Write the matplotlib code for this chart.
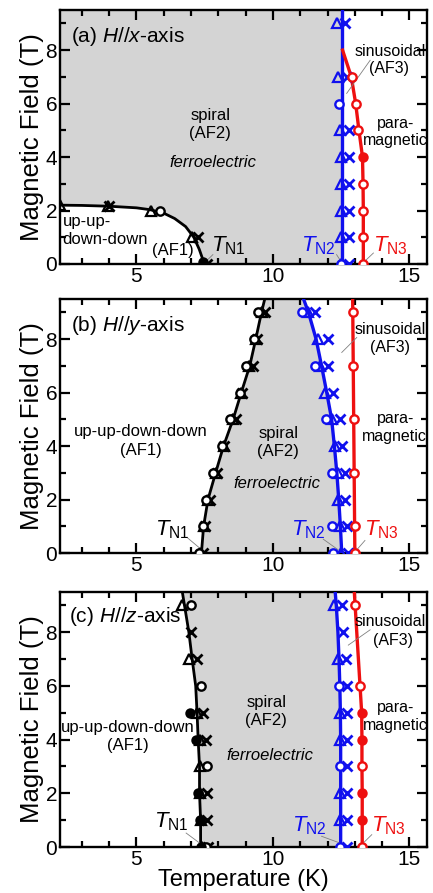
"""
H-T phase diagrams for three field directions
"""
import numpy as np
import matplotlib
matplotlib.use("Agg")
import matplotlib.pyplot as plt
from matplotlib.ticker import MultipleLocator

plt.rcParams['font.family'] = ['Liberation Sans', 'DejaVu Sans']
plt.rcParams['mathtext.fontset'] = 'custom'
plt.rcParams['mathtext.rm'] = 'Liberation Sans'
plt.rcParams['mathtext.it'] = 'Liberation Sans:italic'

GRAY = '#d4d4d4'
BLUE = '#1010ee'
RED = '#ee1010'

XMIN, XMAX = 2.2, 15.65
YMAX = 9.5

# ---------------- panel (a): H // x ----------------
a_n1_T = [2.2, 3.0, 4.0, 5.0, 5.5, 6.0, 6.4, 6.8, 7.1, 7.3, 7.42, 7.45]
a_n1_H = [2.2, 2.19, 2.16, 2.1, 2.03, 1.9, 1.7, 1.4, 1.0, 0.55, 0.2, 0.0]
a_n2_T = [12.52, 12.52]
a_n2_H = [0.0, 9.5]
a_n3_T = [13.31, 13.31, 13.31, 13.3, 13.28, 13.15, 13.03, 12.87, 12.55]
a_n3_H = [0, 1, 2, 3, 4, 5, 6, 7, 8]

a_k_tri_T = [2.2, 3.95, 5.55, 7.05, 7.4]
a_k_tri_H = [2.2, 2.15, 2.0, 1.0, 0.0]
a_k_x_T = [4.0, 7.25, 7.6]
a_k_x_H = [2.15, 1.0, 0.0]
a_k_o_T = [5.85]
a_k_o_H = [2.0]
a_k_f_T = [7.45]
a_k_f_H = [0.08]

a_b_tri_T = [12.5, 12.48, 12.48, 12.48, 12.48, 12.45, 12.4, 12.35]
a_b_tri_H = [0, 1, 2, 3, 4, 5, 7, 9]
a_b_x_T = [12.8, 12.8, 12.8, 12.8, 12.8, 12.8, 12.72, 12.65]
a_b_x_H = [0, 1, 2, 3, 4, 5, 7, 9]
a_b_o_T = [12.5, 12.42]
a_b_o_H = [0, 6]

a_r_o_T = [13.31, 13.31, 13.31, 13.31, 13.13, 13.04, 12.88]
a_r_o_H = [0, 1, 2, 3, 5, 6, 7]
a_r_f_T = [13.31]
a_r_f_H = [4]

# ---------------- panel (b): H // y ----------------
b_H = [0, 1, 2, 3, 4, 5, 6, 7, 8, 9, 9.5]
b_n1_T = [7.38, 7.46, 7.62, 7.9, 8.19, 8.54, 8.84, 9.15, 9.37, 9.58, 9.7]
b_n2_T = [12.52, 12.47, 12.41, 12.34, 12.25, 12.15, 11.97, 11.78, 11.58, 11.3, 11.12]
b_n3_T = [13.0, 12.92]
b_n3_H = [0.0, 9.5]

b_pts_H = [0, 1, 2, 3, 4, 5, 6, 7, 8, 9]
b_k_o_T = [7.3, 7.42, 7.55, 7.82, 8.12, 8.42, 8.78, 9.0, 9.3, 9.45]
b_k_tri_T = [7.38, 7.46, 7.62, 7.9, 8.19, 8.52, 8.84, 9.12, 9.37, 9.6]
b_k_x_T = [7.45, 7.5, 7.68, 7.95, 8.22, 8.65, 8.88, 9.28, 9.42, 9.7]

b_b_tri_T = [12.48, 12.45, 12.39, 12.39, 12.27, 12.15, 11.9, 11.72, 11.66, 11.3]
b_b_x_T = [12.75, 12.7, 12.64, 12.64, 12.52, 12.45, 12.21, 12.03, 12.03, 11.54]
b_b_o_T = [12.2, 12.15, 12.15, 11.96, 11.54, 11.05]
b_b_o_H = [0, 1, 3, 5, 7, 9]

b_r_o_T = [13.0, 13.0, 12.98, 12.97, 12.95, 12.93]
b_r_o_H = [0, 1, 3, 5, 7, 9]

# ---------------- panel (c): H // z ----------------
c_H = [0, 1, 2, 3, 4, 5, 6, 7, 8, 9, 9.5]
c_n1_T = [7.35, 7.35, 7.31, 7.31, 7.26, 7.22, 7.17, 7.04, 6.92, 6.76, 6.68]
c_n2_T = [12.48, 12.48, 12.48, 12.48, 12.48, 12.47, 12.45, 12.42, 12.38, 12.32, 12.28]
c_n3_T = [13.27, 13.27, 13.27, 13.26, 13.26, 13.25, 13.19, 13.13, 13.07, 13.01, 12.98]

c_k_tri_T = [7.4, 7.37, 7.31, 7.33, 7.31, 7.22, 6.92, 6.68]
c_k_tri_H = [0, 1, 2, 3, 4, 5, 7, 9]
c_k_x_T = [7.62, 7.6, 7.6, 7.53, 7.44, 7.21, 6.98]
c_k_x_H = [0, 1, 2, 4, 5, 7, 8]
c_k_o_T = [7.55, 7.6, 7.37, 7.0]
c_k_o_H = [0, 3, 6, 9]
c_k_f_T = [7.35, 7.31, 7.25, 7.17, 6.95]
c_k_f_H = [0, 1, 2, 4, 5]

c_b_tri_T = [12.45, 12.45, 12.45, 12.44, 12.4, 12.22]
c_b_tri_H = [1, 2, 4, 5, 7, 9]
c_b_o_T = [12.45, 12.45, 12.42]
c_b_o_H = [0, 3, 6]
c_b_x_T = [12.7, 12.73, 12.73, 12.73, 12.73, 12.72, 12.7, 12.68, 12.58, 12.52]
c_b_x_H = [0, 1, 2, 3, 4, 5, 6, 7, 8, 9]

c_r_o_T = [13.27, 13.26, 13.19, 13.01]
c_r_o_H = [0, 3, 6, 9]
c_r_f_T = [13.27, 13.27, 13.26, 13.25]
c_r_f_H = [1, 2, 4, 5]


def style_axes(ax):
    ax.set_xlim(XMIN, XMAX)
    ax.set_ylim(0, YMAX)
    ax.xaxis.set_major_locator(MultipleLocator(5))
    ax.xaxis.set_minor_locator(MultipleLocator(1))
    ax.yaxis.set_major_locator(MultipleLocator(2))
    ax.yaxis.set_minor_locator(MultipleLocator(1))
    ax.tick_params(which='both', direction='in', top=True, right=True,
                   width=1.6, labelsize=15, pad=2)
    ax.tick_params(which='major', length=7)
    ax.tick_params(which='minor', length=4.5)
    for s in ax.spines.values():
        s.set_linewidth(1.7)
    ax.set_ylabel('Magnetic Field (T)', fontsize=18.5, labelpad=1)


def markers(ax, T, H, kind, color):
    if kind == 'tri':
        ax.plot(T, H, ls='none', marker='^', ms=7, mfc='none', mec=color, mew=1.6, zorder=4)
    elif kind == 'x':
        ax.plot(T, H, ls='none', marker='x', ms=6.5, mec=color, mew=2.0, zorder=4)
    elif kind == 'o':
        ax.plot(T, H, ls='none', marker='o', ms=6, mfc='white', mec=color, mew=1.7, zorder=5)
    elif kind == 'f':
        ax.plot(T, H, ls='none', marker='o', ms=6, mfc=color, mec=color, mew=1.5, zorder=5)


def leader(ax, x0, y0, x1, y1):
    ax.plot([x0, x1], [y0, y1], color='#808080', lw=0.6, zorder=3)


def region_text(ax, T, H, s, size=12, **kw):
    ax.text(T, H, s, fontsize=size, ha='center', va='center', zorder=6, **kw)


def tn_text(ax, T, H, s, color):
    ax.text(T, H, s, fontsize=16, ha='center', va='center', color=color, zorder=6)


fig = plt.figure(figsize=(4.33, 8.93), dpi=100)
L, W = 0.1386, 0.848
ax_a = fig.add_axes([L, 0.7044, W, 0.2844])
ax_b = fig.add_axes([L, 0.3807, W, 0.2845])
ax_c = fig.add_axes([L, 0.0515, W, 0.2856])

# ---- (a)
ax = ax_a
poly_T = [XMIN] + a_n1_T + [a_n2_T[0], a_n2_T[1]]
poly_H = [YMAX] + a_n1_H + [a_n2_H[0], a_n2_H[1]]
ax.fill(poly_T, poly_H, color=GRAY, lw=0, zorder=1)
ax.plot(a_n1_T, a_n1_H, color='black', lw=2.0, zorder=3)
ax.plot(a_n2_T, a_n2_H, color=BLUE, lw=2.4, zorder=3)
ax.plot(a_n3_T, a_n3_H, color=RED, lw=2.4, zorder=3)
markers(ax, a_k_tri_T, a_k_tri_H, 'tri', 'black')
markers(ax, a_k_x_T, a_k_x_H, 'x', 'black')
markers(ax, a_k_o_T, a_k_o_H, 'o', 'black')
markers(ax, a_k_f_T, a_k_f_H, 'f', 'black')
markers(ax, a_b_tri_T, a_b_tri_H, 'tri', BLUE)
markers(ax, a_b_x_T, a_b_x_H, 'x', BLUE)
markers(ax, a_b_o_T, a_b_o_H, 'o', BLUE)
markers(ax, a_r_o_T, a_r_o_H, 'o', RED)
markers(ax, a_r_f_T, a_r_f_H, 'f', RED)
ax.text(2.6, 8.5, '(a) $H$//$x$-axis', fontsize=15, va='center')
region_text(ax, 7.7, 5.57, 'spiral')
region_text(ax, 7.7, 4.89, '(AF2)')
region_text(ax, 7.8, 3.8, 'ferroelectric', style='italic')
ax.text(2.3, 1.6, 'up-up-', fontsize=12, va='center')
ax.text(2.3, 0.92, 'down-down', fontsize=12, va='center')
region_text(ax, 6.33, 0.5, '(AF1)')
region_text(ax, 14.3, 7.94, 'sinusoidal', size=11.5)
region_text(ax, 14.25, 7.3, '(AF3)', size=11.5)
region_text(ax, 14.5, 5.26, 'para-', size=11.5)
region_text(ax, 14.5, 4.62, 'magnetic', size=11.5)
tn_text(ax, 8.35, 0.68, r'$T_{\rm N1}$', 'black')
tn_text(ax, 11.65, 0.68, r'$T_{\rm N2}$', BLUE)
tn_text(ax, 14.3, 0.68, r'$T_{\rm N3}$', RED)
leader(ax, 7.8, 0.35, 7.5, 0.05)
leader(ax, 12.33, 0.35, 12.52, 0.05)
leader(ax, 13.68, 0.41, 13.31, 0.05)
leader(ax, 12.7, 6.38, 13.56, 7.62)
style_axes(ax)

# ---- (b)
ax = ax_b
ax.fill_betweenx(b_H, b_n1_T, b_n2_T, color=GRAY, lw=0, zorder=1)
ax.plot(b_n1_T, b_H, color='black', lw=2.0, zorder=3)
ax.plot(b_n2_T, b_H, color=BLUE, lw=2.4, zorder=3)
ax.plot(b_n3_T, b_n3_H, color=RED, lw=2.4, zorder=3)
markers(ax, b_k_o_T, b_pts_H, 'o', 'black')
markers(ax, b_k_tri_T, b_pts_H, 'tri', 'black')
markers(ax, b_k_x_T, b_pts_H, 'x', 'black')
markers(ax, b_b_o_T, b_b_o_H, 'o', BLUE)
markers(ax, b_b_tri_T, b_pts_H, 'tri', BLUE)
markers(ax, b_b_x_T, b_pts_H, 'x', BLUE)
markers(ax, b_r_o_T, b_r_o_H, 'o', RED)
ax.text(2.6, 8.5, '(b) $H$//$y$-axis', fontsize=15, va='center')
region_text(ax, 5.17, 4.53, 'up-up-down-down')
region_text(ax, 5.17, 3.85, '(AF1)')
region_text(ax, 10.19, 4.47, 'spiral')
region_text(ax, 10.19, 3.78, '(AF2)')
region_text(ax, 10.13, 2.6, 'ferroelectric', style='italic')
region_text(ax, 14.3, 8.37, 'sinusoidal', size=11.5)
region_text(ax, 14.3, 7.69, '(AF3)', size=11.5)
region_text(ax, 14.5, 5.02, 'para-', size=11.5)
region_text(ax, 14.45, 4.34, 'magnetic', size=11.5)
tn_text(ax, 6.33, 0.87, r'$T_{\rm N1}$', 'black')
tn_text(ax, 11.29, 0.87, r'$T_{\rm N2}$', BLUE)
tn_text(ax, 13.98, 0.87, r'$T_{\rm N3}$', RED)
leader(ax, 6.88, 0.56, 7.31, 0.19)
leader(ax, 11.84, 0.52, 12.39, 0.12)
leader(ax, 13.37, 0.47, 13.07, 0.12)
leader(ax, 12.52, 7.5, 13.07, 8.06)
style_axes(ax)

# ---- (c)
ax = ax_c
ax.fill_betweenx(c_H, c_n1_T, c_n2_T, color=GRAY, lw=0, zorder=1)
ax.plot(c_n1_T, c_H, color='black', lw=2.0, zorder=3)
ax.plot(c_n2_T, c_H, color=BLUE, lw=2.4, zorder=3)
ax.plot(c_n3_T, c_H, color=RED, lw=2.4, zorder=3)
markers(ax, c_k_tri_T, c_k_tri_H, 'tri', 'black')
markers(ax, c_k_x_T, c_k_x_H, 'x', 'black')
markers(ax, c_k_o_T, c_k_o_H, 'o', 'black')
markers(ax, c_k_f_T, c_k_f_H, 'f', 'black')
markers(ax, c_b_tri_T, c_b_tri_H, 'tri', BLUE)
markers(ax, c_b_o_T, c_b_o_H, 'o', BLUE)
markers(ax, c_b_x_T, c_b_x_H, 'x', BLUE)
markers(ax, c_r_o_T, c_r_o_H, 'o', RED)
markers(ax, c_r_f_T, c_r_f_H, 'f', RED)
ax.text(2.54, 8.59, '(c) $H$//$z$-axis', fontsize=15, va='center')
region_text(ax, 4.68, 4.46, 'up-up-down-down')
region_text(ax, 4.68, 3.78, '(AF1)')
region_text(ax, 9.76, 5.4, 'spiral')
region_text(ax, 9.76, 4.71, '(AF2)')
region_text(ax, 9.88, 3.4, 'ferroelectric', style='italic')
region_text(ax, 14.3, 8.4, 'sinusoidal', size=11.5)
region_text(ax, 14.4, 7.71, '(AF3)', size=11.5)
region_text(ax, 14.5, 5.21, 'para-', size=11.5)
region_text(ax, 14.5, 4.52, 'magnetic', size=11.5)
tn_text(ax, 6.27, 0.96, r'$T_{\rm N1}$', 'black')
tn_text(ax, 11.35, 0.78, r'$T_{\rm N2}$', BLUE)
tn_text(ax, 14.23, 0.78, r'$T_{\rm N3}$', RED)
leader(ax, 6.82, 0.52, 7.31, 0.15)
leader(ax, 11.78, 0.4, 12.45, 0.15)
leader(ax, 13.62, 0.46, 13.31, 0.15)
leader(ax, 12.76, 7.52, 13.56, 8.09)
style_axes(ax)
ax.set_xlabel('Temperature (K)', fontsize=17, labelpad=0)

fig.savefig('out.png', dpi=100)
